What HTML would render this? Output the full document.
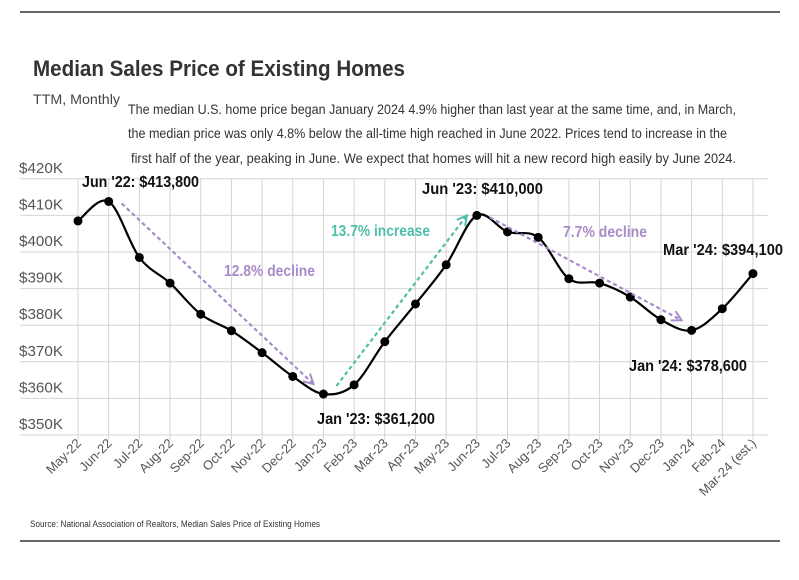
<!DOCTYPE html>
<html><head><meta charset="utf-8"><style>
body{margin:0;background:#fff;font-family:"Liberation Sans Narrow","Liberation Sans",sans-serif;}
svg text{font-family:"Liberation Sans Narrow","Liberation Sans",sans-serif;}
</style></head><body>
<svg id="c" width="799" height="575">
<line x1="20" y1="12" x2="780" y2="12" stroke="#333" stroke-width="1.5"/>
<text x="33" y="76" font-size="22" font-weight="bold" fill="#333" textLength="372" lengthAdjust="spacingAndGlyphs">Median Sales Price of Existing Homes</text>
<text x="33" y="104" font-size="14" fill="#444" textLength="87" lengthAdjust="spacingAndGlyphs">TTM, Monthly</text>
<g font-size="14" fill="#333">
<text x="128" y="114" textLength="608" lengthAdjust="spacingAndGlyphs">The median U.S. home price began January 2024 4.9% higher than last year at the same time, and, in March,</text>
<text x="128" y="138" textLength="599" lengthAdjust="spacingAndGlyphs">the median price was only 4.8% below the all-time high reached in June 2022. Prices tend to increase in the</text>
<text x="131" y="163" textLength="605" lengthAdjust="spacingAndGlyphs">first half of the year, peaking in June. We expect that homes will hit a new record high easily by June 2024.</text>
</g>
<g id="grid"></g><g id="plot"></g><g id="labels"></g>
<text x="30" y="527" font-size="9" fill="#333" textLength="290" lengthAdjust="spacingAndGlyphs">Source:  National Association of Realtors, Median Sales Price of Existing Homes</text>
<line x1="20" y1="541" x2="780" y2="541" stroke="#333" stroke-width="1.5"/>
</svg>
<script>
const categories=["May-22","Jun-22","Jul-22","Aug-22","Sep-22","Oct-22","Nov-22","Dec-22","Jan-23","Feb-23","Mar-23","Apr-23","May-23","Jun-23","Jul-23","Aug-23","Sep-23","Oct-23","Nov-23","Dec-23","Jan-24","Feb-24","Mar-24 (est.)"];
const values=[408.5,413.8,398.5,391.5,383,378.5,372.5,366,361.2,363.7,375.5,385.8,396.5,410,405.5,404,392.7,391.5,387.7,381.5,378.6,384.5,394.1];
const yTicks=[350,360,370,380,390,400,410,420];
const yTickLabels=["$350K","$360K","$370K","$380K","$390K","$400K","$410K","$420K"];
const x=i=>78+i*30.68;
const y=v=>435-(v-350)*3.66;
const NS="http://www.w3.org/2000/svg";
function mk(tag,attrs,parent,txt){const e=document.createElementNS(NS,tag);for(const k in attrs)e.setAttribute(k,attrs[k]);if(txt!==undefined)e.textContent=txt;parent.appendChild(e);return e;}
const grid=document.getElementById('grid'),plot=document.getElementById('plot'),lab=document.getElementById('labels');
yTicks.forEach((t,i)=>{
 const l=mk('line',{x1:20,x2:768,y1:y(t),y2:y(t),stroke:'#d4d4d4','stroke-width':1},grid);
 
 
 const tx=mk('text',{x:19,y:y(t)-6,'font-size':15,fill:'#555',textLength:44,lengthAdjust:'spacingAndGlyphs'},grid,yTickLabels[i]);
 
 
});
categories.forEach((c,i)=>{
 const l=mk('line',{x1:x(i),x2:x(i),y1:179,y2:440,stroke:'#d4d4d4','stroke-width':1},grid);
 
 
 const tx=mk('text',{x:x(i)+4,y:444,'font-size':13,fill:'#555','text-anchor':'end',transform:`rotate(-45 ${x(i)+4} 444)`},grid,c);
 
 
});
const pts=values.map((v,i)=>[x(i),y(v)]);
let d=`M${pts[0][0]},${pts[0][1]}`;
for(let i=0;i<pts.length-1;i++){const p0=pts[i-1]||pts[i],p1=pts[i],p2=pts[i+1],p3=pts[i+2]||p2;
 d+=` C${p1[0]+(p2[0]-p0[0])/6},${p1[1]+(p2[1]-p0[1])/6} ${p2[0]-(p3[0]-p1[0])/6},${p2[1]-(p3[1]-p1[1])/6} ${p2[0]},${p2[1]}`;}
const line=mk('path',{d:d,fill:'none',stroke:'#000','stroke-width':2.2},plot);


pts.forEach(p=>{const c=mk('circle',{cx:p[0],cy:p[1],r:4.5,fill:'#000'},plot);
 
 });
function arrow(i1,i2,col,name){
 const x1=x(i1)+13,y1=y(values[i1])+(values[i2]<values[i1]?2:-8),x2=x(i2)-10,y2=y(values[i2])+(values[i2]<values[i1]?-10:0);
 const g=mk('g',{},lab);
 
 
 mk('line',{x1:x1,y1:y1,x2:x2,y2:y2,stroke:col,'stroke-width':2.2,'stroke-dasharray':'4,3'},g);
 const a=Math.atan2(y2-y1,x2-x1),s=11;
 mk('path',{d:`M${x2-s*Math.cos(a-0.5)},${y2-s*Math.sin(a-0.5)} L${x2},${y2} L${x2-s*Math.cos(a+0.5)},${y2-s*Math.sin(a+0.5)}`,fill:'none',stroke:col,'stroke-width':2},g);
}
arrow(1,8,'#a88bc9','decline-arrow-1');
arrow(8,13,'#4fbfa8','increase-arrow');
arrow(13,20,'#a88bc9','decline-arrow-2');
const notes=[[82,187,"Jun '22: $413,800",'#111',117],[317,424,"Jan '23: $361,200",'#111',118],[422,194,"Jun '23: $410,000",'#111',121],[629,371,"Jan '24: $378,600",'#111',118],[663,255,"Mar '24: $394,100",'#111',120],[224,276,"12.8% decline",'#a88bc9',91],[331,236,"13.7% increase",'#4fbfa8',99],[563,237,"7.7% decline",'#a88bc9',84]];
notes.forEach(n=>{const t=mk('text',{x:n[0],y:n[1],'font-size':16,'font-weight':'bold',fill:n[3],textLength:n[4],lengthAdjust:'spacingAndGlyphs'},lab,n[2]);
 
 });
</script>
</body></html>
